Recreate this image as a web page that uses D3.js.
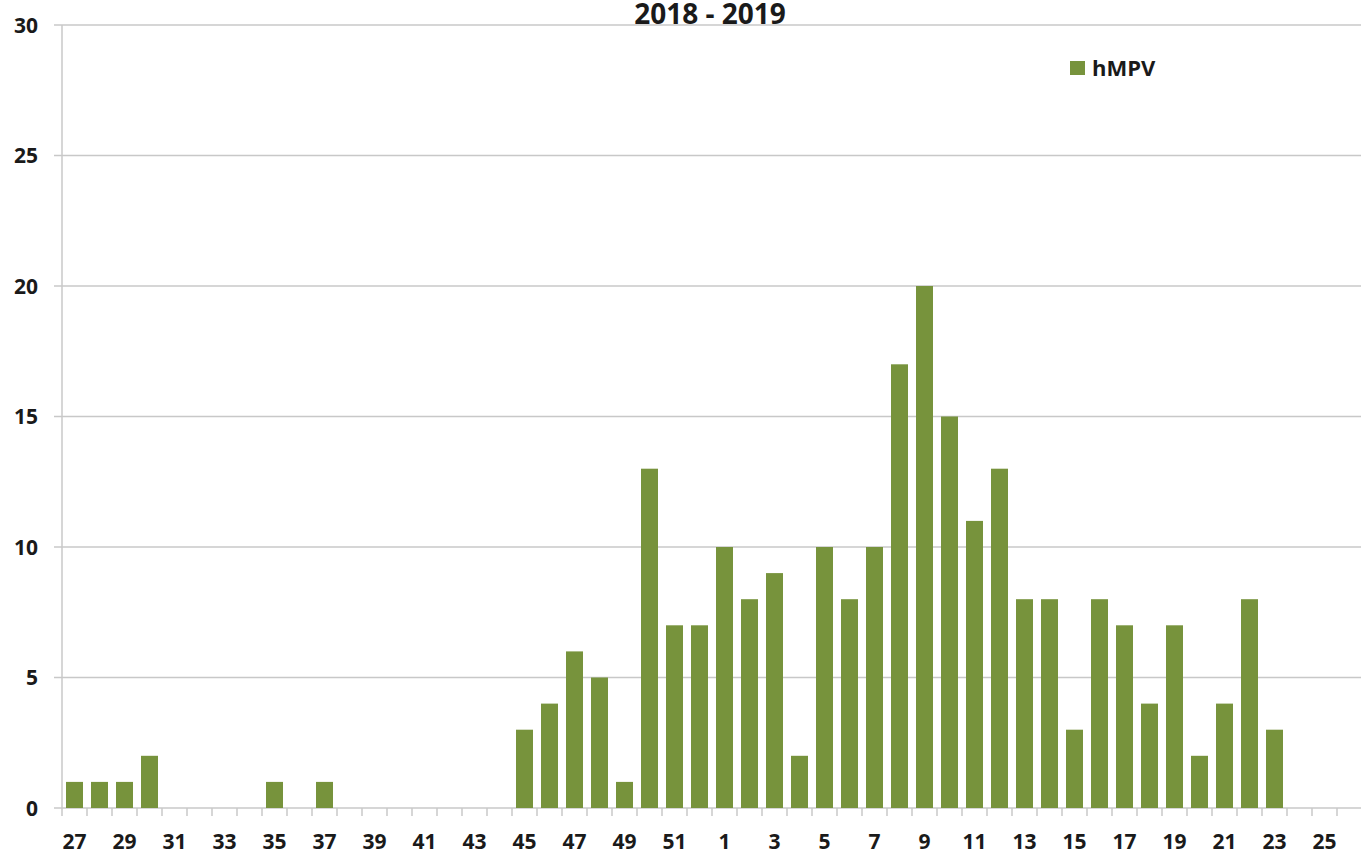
<!DOCTYPE html>
<html><head><meta charset="utf-8">
<script src="https://cdn.jsdelivr.net/npm/d3@7"></script>
<style>body{margin:0;background:#fff;overflow:hidden}svg{display:block}text{font-family:"Open Sans",sans-serif;font-weight:bold;fill:#1a1a1a}</style>
</head><body>
<script>
const weeks = [27,28,29,30,31,32,33,34,35,36,37,38,39,40,41,42,43,44,45,46,47,48,49,50,51,52,1,2,3,4,5,6,7,8,9,10,11,12,13,14,15,16,17,18,19,20,21,22,23,24,25,26];
const hMPV = [1,1,1,2,0,0,0,0,1,0,1,0,0,0,0,0,0,0,3,4,6,5,1,13,7,7,10,8,9,2,10,8,10,17,20,15,11,13,8,8,3,8,7,4,7,2,4,8,3,0,0,0];
const yTicks = [0,5,10,15,20,25,30];
const seriesName = "hMPV";
const title = "2018 - 2019";

const W = 1361, H = 854;
const svg = d3.select("body").append("svg").attr("width", W).attr("height", H);
const m = {left: 62, right: 62 + 1300, top: 25, bottom: 808};
const x = d3.scaleBand().domain(weeks.map((w,i)=>i)).range([m.left, m.right]).paddingInner(0.32).paddingOuter(0.16);
const y = d3.scaleLinear().domain([0,30]).range([m.bottom, m.top]);

// gridlines
svg.append("g").selectAll("line").data(yTicks).join("line")
  .attr("x1", m.left - 8).attr("x2", m.right).attr("y1", d=>y(d)).attr("y2", d=>y(d))
  .attr("stroke", "#c8c8c8").attr("stroke-width", 1.5);
// y axis line
svg.append("line").attr("x1", m.left).attr("x2", m.left).attr("y1", y(30)).attr("y2", y(0))
  .attr("stroke", "#c8c8c8").attr("stroke-width", 1.5);
// y labels
svg.append("g").selectAll("text").data(yTicks).join("text")
  .attr("x", 38).attr("y", d=>y(d)).attr("dy", "0.36em").attr("text-anchor", "end")
  .attr("font-size", 21).text(d=>d);

// bars
svg.append("g").selectAll("rect").data(hMPV).join("rect")
  .attr("x", (d,i)=>x(i)).attr("width", x.bandwidth())
  .attr("y", d=>y(d)).attr("height", d=>y(0)-y(d))
  .attr("fill", "#77933c");

// x axis ticks
const step = x.step();
const tickPos = d3.range(weeks.length + 1).map(i => m.left + i*step);
svg.append("g").selectAll("line").data(tickPos).join("line")
  .attr("x1", d=>d).attr("x2", d=>d).attr("y1", y(0)).attr("y2", y(0) + 8)
  .attr("stroke", "#c8c8c8").attr("stroke-width", 1.5);
// x labels (every other week)
svg.append("g").selectAll("text").data(weeks.map((w,i)=>({w,i})).filter(d=>d.i%2===0)).join("text")
  .attr("x", d=>x(d.i) + x.bandwidth()/2).attr("y", 849).attr("text-anchor", "middle")
  .attr("font-size", 21).text(d=>d.w);

// title
svg.append("text").attr("x", 710).attr("y", 24).attr("text-anchor", "middle")
  .attr("font-size", 28).text(title);

// legend
svg.append("rect").attr("x", 1070).attr("y", 61).attr("width", 15).attr("height", 14).attr("fill", "#77933c");
svg.append("text").attr("x", 1092).attr("y", 76).attr("font-size", 22).text(seriesName);
</script>
</body></html>
